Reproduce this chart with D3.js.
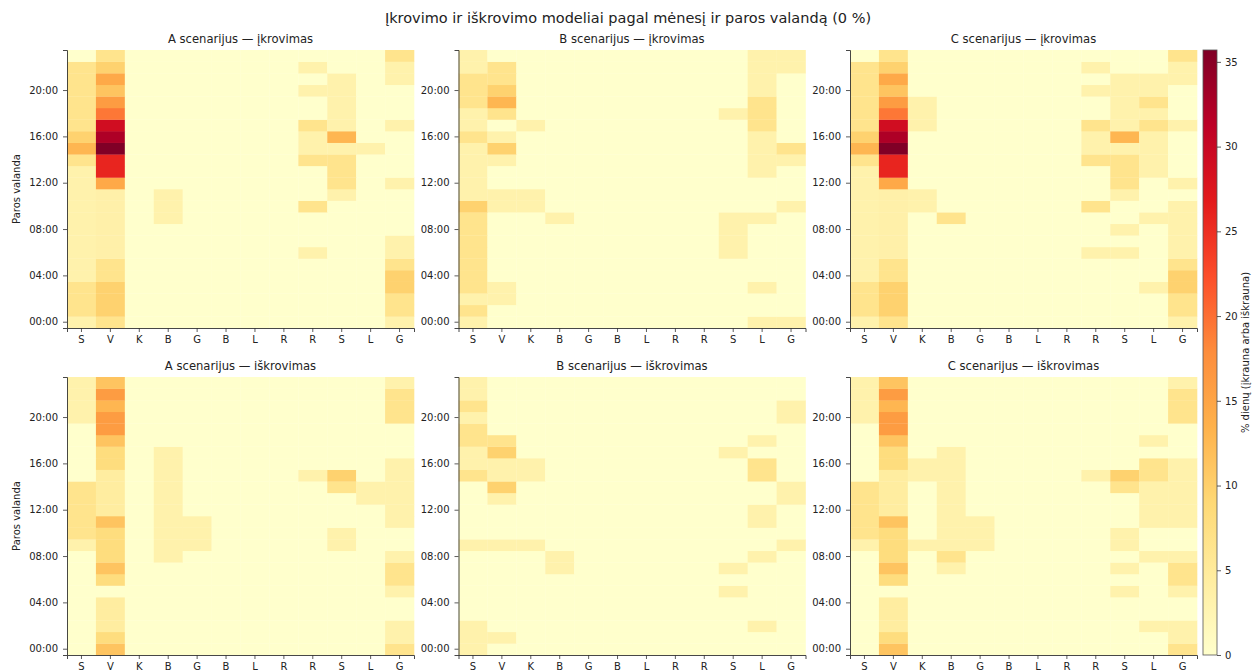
<!DOCTYPE html>
<html><head><meta charset="utf-8">
<script src="https://cdn.jsdelivr.net/npm/d3@7"></script>
<style>body{margin:0;background:#fff}svg{display:block;font-family:"DejaVu Sans",sans-serif}</style>
</head><body><svg id="c" width="1256" height="672"></svg>
<script>
const months = ["S","V","K","B","G","B","L","R","R","S","L","G"];
const hourTicks = [0,4,8,12,16,20];
const hourTickLabels = ["00:00","04:00","08:00","12:00","16:00","20:00"];
const colorTicks = [0,5,10,15,20,25,30,35];
const vmax = 35.7;
const titleMain = "Įkrovimo ir iškrovimo modeliai pagal mėnesį ir paros valandą (0 %)";
const panelTitles = ["A scenarijus — įkrovimas","B scenarijus — įkrovimas","C scenarijus — įkrovimas",
  "A scenarijus — iškrovimas","B scenarijus — iškrovimas","C scenarijus — iškrovimas"];

// rows = hour 0..23, columns = months
const chargeA = [
[3.2,6.5,0,0,0,0,0,0,0,0,0,3.2],
[6.5,9.7,0,0,0,0,0,0,0,0,0,6.5],
[6.5,9.7,0,0,0,0,0,0,0,0,0,6.5],
[6.5,9.7,0,0,0,0,0,0,0,0,0,9.7],
[3.2,6.5,0,0,0,0,0,0,0,0,0,9.7],
[3.2,6.5,0,0,0,0,0,0,0,0,0,6.5],
[3.2,3.6,0,0,0,0,0,0,3.2,0,0,3.2],
[3.2,3.6,0,0,0,0,0,0,0,0,0,3.2],
[3.2,3.6,0,0,0,0,0,0,0,0,0,0],
[3.2,3.6,0,3.2,0,0,0,0,0,0,0,0],
[3.2,3.6,0,3.2,0,0,0,0,6.5,0,0,0],
[3.2,3.6,0,3.2,0,0,0,0,0,3.2,0,0],
[3.2,14.5,0,0,0,0,0,0,0,6.5,0,3.2],
[3.2,25.8,0,0,0,0,0,0,0,6.5,0,0],
[6.5,25.8,0,0,0,0,0,0,6.5,6.5,0,0],
[12.9,35.7,0,0,0,0,0,0,3.2,3.2,3.2,0],
[9.7,32.3,0,0,0,0,0,0,3.2,12.9,0,0],
[6.5,29.0,0,0,0,0,0,0,6.5,3.2,0,3.2],
[6.5,19.4,0,0,0,0,0,0,0,3.2,0,0],
[6.5,16.1,0,0,0,0,0,0,0,3.2,0,0],
[6.5,11.3,0,0,0,0,0,0,3.2,3.2,0,0],
[6.5,14.5,0,0,0,0,0,0,0,3.2,0,3.2],
[6.5,9.7,0,0,0,0,0,0,3.2,0,0,3.2],
[0,6.5,0,0,0,0,0,0,0,0,0,6.5]];

const chargeB = [
[3.2,0,0,0,0,0,0,0,0,0,3.2,3.2],
[6.5,0,0,0,0,0,0,0,0,0,0,0],
[3.2,3.2,0,0,0,0,0,0,0,0,0,0],
[6.5,3.2,0,0,0,0,0,0,0,0,3.2,0],
[6.5,0,0,0,0,0,0,0,0,0,0,0],
[6.5,0,0,0,0,0,0,0,0,0,0,0],
[6.5,0,0,0,0,0,0,0,0,3.2,0,0],
[6.5,0,0,0,0,0,0,0,0,3.2,0,0],
[6.5,0,0,0,0,0,0,0,0,3.2,0,0],
[6.5,0,0,3.2,0,0,0,0,0,3.2,3.2,0],
[9.7,3.2,3.2,0,0,0,0,0,0,0,0,3.2],
[3.2,3.2,3.2,0,0,0,0,0,0,0,0,0],
[3.2,0,0,0,0,0,0,0,0,0,0,0],
[3.2,0,0,0,0,0,0,0,0,0,3.2,0],
[3.2,3.2,0,0,0,0,0,0,0,0,3.2,3.2],
[3.2,9.7,0,0,0,0,0,0,0,0,3.2,6.5],
[6.5,3.2,0,0,0,0,0,0,0,0,3.2,0],
[3.2,0,3.2,0,0,0,0,0,0,0,6.5,0],
[3.2,6.5,0,0,0,0,0,0,0,3.2,6.5,0],
[6.5,12.9,0,0,0,0,0,0,0,0,6.5,0],
[6.5,9.7,0,0,0,0,0,0,0,0,3.2,0],
[6.5,6.5,0,0,0,0,0,0,0,0,3.2,0],
[3.2,6.5,0,0,0,0,0,0,0,0,3.2,3.2],
[3.2,0,0,0,0,0,0,0,0,0,3.2,3.2]];

const chargeC = [
[3.2,6.5,0,0,0,0,0,0,0,0,0,3.2],
[6.5,9.7,0,0,0,0,0,0,0,0,0,6.5],
[6.5,9.7,0,0,0,0,0,0,0,0,0,6.5],
[6.5,9.7,0,0,0,0,0,0,0,0,3.2,9.7],
[3.2,6.5,0,0,0,0,0,0,0,0,0,9.7],
[3.2,6.5,0,0,0,0,0,0,0,0,0,6.5],
[3.2,3.6,0,0,0,0,0,0,3.2,3.2,0,3.2],
[3.2,3.6,0,0,0,0,0,0,0,0,0,3.2],
[3.2,3.6,0,0,0,0,0,0,0,3.2,0,3.2],
[3.2,3.6,0,6.5,0,0,0,0,0,0,3.2,3.2],
[3.2,3.6,3.2,0,0,0,0,0,6.5,0,0,3.2],
[3.2,3.6,3.2,0,0,0,0,0,0,3.2,0,0],
[3.2,14.5,0,0,0,0,0,0,0,6.5,0,3.2],
[3.2,25.8,0,0,0,0,0,0,0,6.5,3.2,0],
[6.5,25.8,0,0,0,0,0,0,6.5,6.5,3.2,0],
[12.9,35.7,0,0,0,0,0,0,3.2,3.2,3.2,0],
[9.7,32.3,0,0,0,0,0,0,3.2,12.9,3.2,0],
[6.5,29.0,3.2,0,0,0,0,0,6.5,3.2,6.5,3.2],
[6.5,19.4,3.2,0,0,0,0,0,0,3.2,3.2,0],
[6.5,16.1,3.2,0,0,0,0,0,0,3.2,6.5,0],
[6.5,11.3,0,0,0,0,0,0,3.2,3.2,3.2,0],
[6.5,14.5,0,0,0,0,0,0,0,3.2,3.2,3.2],
[6.5,9.7,0,0,0,0,0,0,3.2,0,0,3.2],
[0,6.5,0,0,0,0,0,0,0,0,0,6.5]];

const dischargeA = [
[0,11.3,0,0,0,0,0,0,0,0,0,6.5],
[0,8.1,0,0,0,0,0,0,0,0,0,3.2],
[0,4.5,0,0,0,0,0,0,0,0,0,3.2],
[0,4.5,0,0,0,0,0,0,0,0,0,0],
[0,4.5,0,0,0,0,0,0,0,0,0,0],
[0,0,0,0,0,0,0,0,0,0,0,3.2],
[0,8.1,0,0,0,0,0,0,0,0,0,6.5],
[0,11.3,0,0,0,0,0,0,0,0,0,6.5],
[0,8.1,0,3.2,0,0,0,0,0,0,0,3.2],
[3.2,8.1,0,3.2,3.2,0,0,0,0,3.2,0,0],
[6.5,8.1,0,3.2,3.2,0,0,0,0,3.2,0,0],
[6.5,11.3,0,3.2,3.2,0,0,0,0,0,0,3.2],
[6.5,4.5,0,3.2,0,0,0,0,0,0,0,3.2],
[6.5,4.5,0,3.2,0,0,0,0,0,0,3.2,3.2],
[6.5,4.5,0,3.2,0,0,0,0,0,6.5,3.2,3.2],
[0,4.5,0,3.2,0,0,0,0,3.2,9.7,0,3.2],
[0,8.1,0,3.2,0,0,0,0,0,0,0,3.2],
[0,8.1,0,3.2,0,0,0,0,0,0,0,0],
[0,11.3,0,0,0,0,0,0,0,0,0,0],
[0,16.1,0,0,0,0,0,0,0,0,0,0],
[3.2,16.1,0,0,0,0,0,0,0,0,0,6.5],
[3.2,12.9,0,0,0,0,0,0,0,0,0,6.5],
[3.2,16.1,0,0,0,0,0,0,0,0,0,6.5],
[3.2,11.3,0,0,0,0,0,0,0,0,0,3.2]];

const dischargeB = [
[3.2,0,0,0,0,0,0,0,0,0,0,0],
[3.2,3.2,0,0,0,0,0,0,0,0,0,0],
[3.2,0,0,0,0,0,0,0,0,0,3.2,0],
[0,0,0,0,0,0,0,0,0,0,0,0],
[0,0,0,0,0,0,0,0,0,0,0,0],
[0,0,0,0,0,0,0,0,0,3.2,0,0],
[0,0,0,0,0,0,0,0,0,0,0,0],
[0,0,0,3.2,0,0,0,0,0,3.2,0,0],
[0,0,0,3.2,0,0,0,0,0,0,3.2,0],
[3.2,3.2,3.2,0,0,0,0,0,0,0,0,3.2],
[0,0,0,0,0,0,0,0,0,0,0,0],
[0,0,0,0,0,0,0,0,0,0,3.2,0],
[0,0,0,0,0,0,0,0,0,0,3.2,0],
[0,3.2,0,0,0,0,0,0,0,0,0,3.2],
[0,9.7,0,0,0,0,0,0,0,0,0,3.2],
[6.5,3.2,3.2,0,0,0,0,0,0,0,6.5,0],
[3.2,3.2,3.2,0,0,0,0,0,0,0,6.5,0],
[3.2,9.7,0,0,0,0,0,0,0,3.2,0,0],
[6.5,6.5,0,0,0,0,0,0,0,0,3.2,0],
[6.5,0,0,0,0,0,0,0,0,0,0,0],
[3.2,0,0,0,0,0,0,0,0,0,0,3.2],
[6.5,0,0,0,0,0,0,0,0,0,0,3.2],
[3.2,0,0,0,0,0,0,0,0,0,0,0],
[3.2,0,0,0,0,0,0,0,0,0,0,0]];

const dischargeC = [
[0,11.3,0,0,0,0,0,0,0,0,0,6.5],
[0,8.1,0,0,0,0,0,0,0,0,0,3.2],
[0,4.5,0,0,0,0,0,0,0,0,3.2,3.2],
[0,4.5,0,0,0,0,0,0,0,0,0,0],
[0,4.5,0,0,0,0,0,0,0,0,0,0],
[0,0,0,0,0,0,0,0,0,3.2,0,3.2],
[0,8.1,0,0,0,0,0,0,0,0,0,6.5],
[0,11.3,0,3.2,0,0,0,0,0,3.2,0,6.5],
[0,8.1,0,6.5,0,0,0,0,0,0,3.2,3.2],
[3.2,8.1,3.2,3.2,3.2,0,0,0,0,3.2,0,0],
[6.5,8.1,0,3.2,3.2,0,0,0,0,3.2,0,0],
[6.5,11.3,0,3.2,3.2,0,0,0,0,0,3.2,3.2],
[6.5,4.5,0,3.2,0,0,0,0,0,0,3.2,3.2],
[6.5,4.5,0,3.2,0,0,0,0,0,0,3.2,3.2],
[6.5,4.5,0,3.2,0,0,0,0,0,6.5,3.2,3.2],
[0,4.5,3.2,3.2,0,0,0,0,3.2,9.7,6.5,3.2],
[0,8.1,3.2,3.2,0,0,0,0,0,0,6.5,3.2],
[0,8.1,0,3.2,0,0,0,0,0,0,0,0],
[0,11.3,0,0,0,0,0,0,0,0,3.2,0],
[0,16.1,0,0,0,0,0,0,0,0,0,0],
[3.2,16.1,0,0,0,0,0,0,0,0,0,6.5],
[3.2,12.9,0,0,0,0,0,0,0,0,0,6.5],
[3.2,16.1,0,0,0,0,0,0,0,0,0,6.5],
[3.2,11.3,0,0,0,0,0,0,0,0,0,3.2]];

const panelsData = [chargeA, chargeB, chargeC, dischargeA, dischargeB, dischargeC];

const ylorrd = ["#ffffcc","#ffeda0","#fed976","#feb24c","#fd8d3c","#fc4e2a","#e31a1c","#bd0026","#800026"];
const color = d3.scaleLinear()
  .domain(ylorrd.map((c,i)=>i/(ylorrd.length-1)*vmax))
  .range(ylorrd).interpolate(d3.interpolateRgb).clamp(true);

const svg = d3.select("#c");
const TXT = "#222";
const panelX = [67, 458.5, 850], panelY = [50, 377], PW = 347, PH = 278;

svg.append("text").attr("x", 628).attr("y", 23).attr("text-anchor","middle")
  .attr("font-size", 14.5).attr("fill", TXT).text(titleMain);

panelsData.forEach((data, p) => {
  const col = p % 3, row = Math.floor(p / 3);
  const x0 = panelX[col], y0 = panelY[row];
  const x = d3.scaleBand().domain(d3.range(12)).range([x0, x0 + PW]);
  const y = d3.scaleBand().domain(d3.range(24)).range([y0 + PH, y0]);
  const g = svg.append("g");
  const cells = [];
  data.forEach((r, h) => r.forEach((v, m) => cells.push({h, m, v})));
  g.selectAll("rect").data(cells).join("rect")
    .attr("x", d => x(d.m)).attr("y", d => y(d.h))
    .attr("width", x.bandwidth() + 0.3).attr("height", y.bandwidth() + 0.3)
    .attr("fill", d => color(d.v));

  const ax = g.append("g").attr("transform", `translate(0,${y0 + PH})`)
    .call(d3.axisBottom(x).tickSizeOuter(0).tickSize(4).tickPadding(4).tickFormat(i => months[i]));
  const ay = g.append("g").attr("transform", `translate(${x0},0)`)
    .call(d3.axisLeft(y).tickValues(hourTicks).tickSizeOuter(0).tickSize(4).tickPadding(5)
      .tickFormat(h => hourTickLabels[hourTicks.indexOf(h)]));
  [ax, ay].forEach(a => {
    a.selectAll("text").attr("font-size", 10).attr("fill", TXT).attr("font-family", "DejaVu Sans");
    a.selectAll("line").attr("stroke", "#333").attr("stroke-width", 0.8);
    a.select(".domain").attr("stroke", "#333").attr("stroke-width", 0.9);
  });

  svg.append("text").attr("x", x0 + PW / 2).attr("y", y0 - 7).attr("text-anchor", "middle")
    .attr("font-size", 11.6).attr("fill", TXT).text(panelTitles[p]);
  if (col === 0) {
    svg.append("text").attr("transform", `translate(20,${y0 + PH / 2}) rotate(-90)`)
      .attr("text-anchor", "middle").attr("font-size", 10).attr("fill", TXT).text("Paros valanda");
  }
});

// colorbar
const cbX = 1203, cbW = 14, cbY0 = 50, cbY1 = 655;
const defs = svg.append("defs");
const grad = defs.append("linearGradient").attr("id", "cbg").attr("x1", 0).attr("y1", 1).attr("x2", 0).attr("y2", 0);
ylorrd.forEach((c, i) => grad.append("stop").attr("offset", i / (ylorrd.length - 1)).attr("stop-color", c));
svg.append("rect").attr("x", cbX).attr("y", cbY0).attr("width", cbW).attr("height", cbY1 - cbY0)
  .attr("fill", "url(#cbg)").attr("stroke", "#555").attr("stroke-width", 0.8);
const cs = d3.scaleLinear().domain([0, vmax]).range([cbY1, cbY0]);
const cax = svg.append("g").attr("transform", `translate(${cbX + cbW},0)`)
  .call(d3.axisRight(cs).tickValues(colorTicks).tickSize(4).tickPadding(4));
cax.select(".domain").remove();
cax.selectAll("text").attr("font-size", 10).attr("fill", TXT).attr("font-family", "DejaVu Sans");
cax.selectAll("line").attr("stroke", "#333").attr("stroke-width", 0.8);
svg.append("text").attr("transform", `translate(1249,${(cbY0 + cbY1) / 2}) rotate(-90)`)
  .attr("text-anchor", "middle").attr("font-size", 10).attr("fill", TXT)
  .text("% dienų (įkrauna arba iškrauna)");
</script></body></html>
